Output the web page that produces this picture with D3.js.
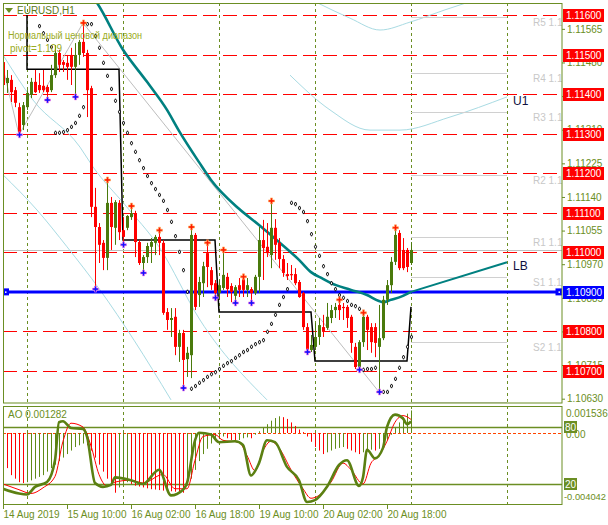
<!DOCTYPE html>
<html><head><meta charset="utf-8">
<script src="https://cdn.jsdelivr.net/npm/d3@7"></script>
<style>body{margin:0;background:#fff}svg{display:block;font-family:"Liberation Sans",Arial,sans-serif}</style>
</head><body>
<svg id="c" width="608" height="525"></svg>
<script>
// ---------- DATA ----------
const opens = [1.11481,1.11428,1.11436,1.11410,1.11367,1.11322,1.11367,1.11398,1.11431,1.11423,
1.11421,1.11418,1.11410,1.11448,1.11504,1.11481,1.11479,1.11499,1.11469,1.11499,
1.11532,1.11504,1.11415,1.11115,1.11064,1.11024,1.10986,1.11125,1.11062,1.11125,
1.11056,1.11062,1.11089,1.11099,1.11026,1.10973,1.10988,1.11014,1.11024,1.11039,
1.11024,1.10849,1.10829,1.10837,1.10761,1.10796,1.10730,1.10740,1.11044,1.10892,
1.10922,1.10998,1.10955,1.10922,1.10897,1.10910,1.10938,1.10915,1.10890,1.10917,
1.10933,1.10905,1.10907,1.10897,1.10938,1.11031,1.11014,1.10993,1.11062,1.11024,
1.10983,1.10945,1.10945,1.10945,1.10925,1.10897,1.10811,1.10753,1.10761,1.10786,
1.10811,1.10809,1.10834,1.10854,1.10867,1.10862,1.10862,1.10837,1.10761,1.10710,
1.10773,1.10837,1.10811,1.10811,1.10761,1.10783,1.10880,1.10917,1.10976,1.11049,
1.11006,1.11006,1.10973];
const highs = [1.11512,1.11461,1.11448,1.11418,1.11378,1.11380,1.11410,1.11441,1.11461,1.11453,
1.11461,1.11423,1.11474,1.11524,1.11512,1.11486,1.11499,1.11517,1.11529,1.11537,
1.11580,1.11512,1.11421,1.11163,1.11074,1.11031,1.11183,1.11140,1.11132,1.11132,
1.11089,1.11094,1.11117,1.11105,1.11031,1.10993,1.11024,1.11036,1.11044,1.11056,
1.11031,1.10859,1.10859,1.10859,1.10804,1.10804,1.10761,1.11064,1.11049,1.10938,
1.10976,1.11024,1.10963,1.10930,1.10930,1.11006,1.10948,1.10922,1.10917,1.10935,
1.10938,1.10935,1.10912,1.10943,1.11064,1.11082,1.11074,1.11130,1.11084,1.11036,
1.10993,1.10973,1.10968,1.10960,1.10930,1.10900,1.10821,1.10791,1.10821,1.10834,
1.10842,1.10872,1.10867,1.10872,1.10880,1.10872,1.10867,1.10842,1.10771,1.10778,
1.10847,1.10842,1.10821,1.10821,1.10867,1.10890,1.10930,1.10988,1.11062,1.11056,
1.11036,1.11011,1.11026];
const lows = [1.11403,1.11403,1.11380,1.11367,1.11297,1.11309,1.11360,1.11390,1.11403,1.11403,
1.11405,1.11385,1.11405,1.11441,1.11456,1.11456,1.11436,1.11423,1.11393,1.11474,
1.11494,1.11342,1.11089,1.10907,1.10973,1.10955,1.10955,1.11006,1.11019,1.11031,
1.11019,1.11056,1.11082,1.10988,1.10968,1.10948,1.10973,1.10973,1.10993,1.10993,
1.10842,1.10804,1.10786,1.10740,1.10723,1.10657,1.10685,1.10682,1.10854,1.10862,
1.10887,1.10912,1.10905,1.10885,1.10880,1.10905,1.10887,1.10874,1.10872,1.10887,
1.10887,1.10887,1.10872,1.10892,1.10897,1.10930,1.10988,1.10960,1.10981,1.10960,
1.10938,1.10930,1.10930,1.10917,1.10885,1.10804,1.10748,1.10748,1.10753,1.10766,
1.10786,1.10804,1.10821,1.10834,1.10829,1.10829,1.10809,1.10746,1.10705,1.10703,
1.10761,1.10753,1.10746,1.10735,1.10647,1.10778,1.10867,1.10897,1.10968,1.10955,
1.10955,1.10950,1.10968];
const closes = [1.11423,1.11441,1.11405,1.11378,1.11302,1.11372,1.11403,1.11431,1.11405,1.11410,
1.11410,1.11405,1.11448,1.11504,1.11474,1.11474,1.11469,1.11469,1.11499,1.11532,
1.11504,1.11410,1.11115,1.11064,1.11019,1.10986,1.11125,1.11064,1.11127,1.11051,
1.11039,1.11092,1.11099,1.11026,1.10973,1.10988,1.11016,1.11026,1.11039,1.11024,
1.10847,1.10829,1.10834,1.10761,1.10796,1.10728,1.10746,1.11044,1.10862,1.10925,
1.10965,1.10963,1.10917,1.10897,1.10917,1.10943,1.10907,1.10900,1.10912,1.10905,
1.10905,1.10917,1.10897,1.10938,1.11031,1.11011,1.10998,1.11062,1.11019,1.10983,
1.10948,1.10940,1.10943,1.10922,1.10887,1.10811,1.10753,1.10766,1.10786,1.10816,
1.10799,1.10837,1.10854,1.10862,1.10854,1.10859,1.10834,1.10771,1.10710,1.10773,
1.10837,1.10804,1.10773,1.10771,1.10783,1.10880,1.10917,1.10976,1.11044,1.10960,
1.10960,1.10963,1.11006];

// parabolic SAR [bar, price]
const sar = [[9,1.11572],[10,1.11554],[11,1.11537],[12,1.11519],
[13,1.11302],[14,1.11302],[15,1.11304],[16,1.11309],[17,1.11317],[18,1.11327],[19,1.11345],[20,1.11367],
[21,1.11577],[22,1.11577],[23,1.11547],[24,1.11517],[25,1.11479],[26,1.11446],[27,1.11413],[28,1.11383],[29,1.11355],
[30,1.11327],[31,1.11302],[32,1.11276],[33,1.11254],[34,1.11233],[35,1.11213],[36,1.11193],[37,1.11175],[38,1.11160],
[39,1.11145],[40,1.11130],[41,1.11107],[42,1.11077],[43,1.11041],[44,1.11001],[45,1.10955],[46,1.10900],
[47,1.10655],[48,1.10662],[49,1.10670],[50,1.10677],[51,1.10685],[52,1.10692],[53,1.10697],[54,1.10705],[55,1.10713],
[56,1.10720],[57,1.10725],[58,1.10733],[59,1.10740],[60,1.10748],[61,1.10753],[62,1.10761],[63,1.10768],[64,1.10773],
[65,1.10778],[66,1.10799],[67,1.10819],[68,1.10842],[69,1.10867],[70,1.10887],[71,1.10907],
[72,1.11125],[73,1.11122],[74,1.11112],[75,1.11102],[76,1.11079],[77,1.11046],[78,1.11014],[79,1.10991],[80,1.10965],
[81,1.10945],[82,1.10922],[83,1.10907],[84,1.10892],[85,1.10885],[86,1.10877],[87,1.10867],[88,1.10864],[89,1.10857],
[90,1.10703],[91,1.10705],[92,1.10705],[93,1.10708],
[95,1.10647],[96,1.10647],[97,1.10662],[98,1.10680],[99,1.10708],[100,1.10735],[101,1.10761],[102,1.10786]];

const fractalUp = [20,26,32,39,47,51,55,60,67,84,90,98];
const fractalDown = [4,11,18,23,30,35,45,53,58,62,76,89,94];

// teal moving average [bar, price]
const maLine = [[18,1.11688],[23,1.11638],[30,1.11512],[36,1.11431],[41,1.11360],[44,1.11307],[49,1.11228],
[52,1.11183],[59,1.11110],[64,1.11069],[69,1.11026],[74,1.10981],[77,1.10950],[80,1.10933],[82,1.10922],
[87,1.10905],[91,1.10892],[94,1.10877],[95,1.10874],[97,1.10880],[100,1.10890],[102,1.10900]];
const lbLine = [[102,1.10900],[126,1.10975]];

// daily level (black step line) [bar, price]
const dayLine = [[6,1.11600],[6,1.11463],[29,1.11463],[30,1.11031],[53,1.11031],[54,1.10849],
[77,1.10849],[78,1.10725],[101,1.10725],[102,1.10862]];

// zigzag (grey) [bar, price]
const zigzag = [[0,1.11466],[4,1.11297],[20,1.11580],[94,1.10647]];

// light blue channel curves [bar, price]
const blueA = [[0,1.11499],[7.5,1.11385],[19.25,1.11266],[22.5,1.11216],[30.5,1.11120],[39,1.11014],[49.25,1.10829],[66,1.10627]];
const blueB = [[0,1.11196],[8.5,1.11107],[16,1.11014],[24.25,1.10905],[32.75,1.10778],[42,1.10627]];
const blueC = [[78.75,1.11630],[86.75,1.11592],[94.25,1.11562],[101.75,1.11582],[110.5,1.11613],[118,1.11638]];
const blueU1 = [[71.75,1.11448],[81.75,1.11360],[91.75,1.11309],[99.25,1.11309],[111.75,1.11342],[126,1.11393]];

// pivot levels
const pivotNames = ["R5","R4","R3","R2","R1","S1","S2","S3"];
const pivotVals = [1.11595,1.11453,1.11355,1.11196,1.11039,1.10938,1.10773,1.10622];

// horizontal levels
const redLevels = [1.116,1.115,1.114,1.113,1.112,1.111,1.110,1.108,1.107];
const blueLevel = 1.109;
const priceTicks = [1.11565,1.11480,1.11395,1.11310,1.11225,1.11140,1.11055,1.10970,1.10885,1.10800,1.10715,1.10630];

// time axis
const timeIdx = [0,16,32,48,64,80,96];
const timeLabels = ["14 Aug 2019","15 Aug 10:00","16 Aug 02:00","16 Aug 18:00","19 Aug 10:00","20 Aug 02:00","20 Aug 18:00"];
const daySep = [6,30,54,78,102,126];

// Awesome Oscillator
const ao = [-0.0016,-0.0020,-0.0024,-0.0026,-0.0028,-0.00285,-0.0028,-0.0027,-0.0026,-0.0025,
-0.0024,-0.0022,-0.0020,-0.0018,-0.0016,-0.0014,-0.0012,-0.0010,-0.0008,-0.0007,
-0.0006,-0.0007,-0.0010,-0.0014,-0.0018,-0.0022,-0.0026,-0.0029,-0.0034,-0.0031,
-0.0029,-0.0028,-0.0029,-0.0030,-0.00305,-0.0031,-0.00315,-0.0032,-0.00322,-0.00325,
-0.00328,-0.0033,-0.00332,-0.00334,-0.00335,-0.0034,-0.0030,-0.0026,-0.0021,-0.0016,
-0.0012,-0.0009,-0.0006,-0.0004,-0.0003,-0.0002,-0.0003,-0.0004,-0.0005,-0.0004,
-0.0003,-0.00025,-0.0003,-0.0001,0.0001,0.0003,0.0005,0.0007,0.00085,0.00095,
0.0009,0.0008,0.0006,0.0004,0.0002,0.00005,-0.0002,-0.0005,-0.0008,-0.0010,
-0.0012,-0.0011,-0.0010,-0.0009,-0.00085,-0.0008,-0.0009,-0.0010,-0.0011,-0.0012,
-0.0011,-0.0010,-0.00095,-0.0010,-0.0009,-0.0007,-0.0004,-0.0001,0.0003,0.0006,
0.0009,0.0011,0.001282];
const aoMax = 0.001536, aoMin = -0.004042;

// stochastic main / signal [bar, value]
const stochMain = [[0,15],[4,10],[6,9],[8,17],[11,22],[13,45],[14,85],[15,86],[17,79],[20,78],[21,70],[23,21],
[25,17],[27,19],[28,27],[32,24],[35,20],[39,35],[42,8],[45,14],[46,21],[48,66],[49,74],[52,72],[54,64],
[58,65],[60,61],[62,29],[64,42],[66,66],[68,64],[71,38],[74,24],[76,1],[78,3],[81,17],[84,40],[86,45],
[89,18],[90,27],[91,56],[93,47],[95,58],[96,80],[98,93],[100,89],[101,83],[102,86]];
const stochSignal = [[0,20],[4,14],[7,10],[10,16],[13,28],[15,65],[17,84],[20,80],[22,60],[24,30],[26,18],
[28,22],[32,24],[35,21],[40,30],[43,15],[46,15],[48,45],[50,70],[53,72],[55,66],[59,64],[61,50],[63,34],
[65,55],[67,65],[69,58],[72,35],[75,15],[77,5],[79,8],[82,22],[85,42],[87,35],[90,20],[92,42],[94,50],
[96,65],[98,85],[100,92],[102,88]];
const stochLevels = [80,20];

// ---------- DRAW ----------
const olive = "#6b8e23", bull = "#4a7a0c", bear = "#ff0000", FS = 10;
const svg = d3.select("#c");
const x = d3.scaleLinear().domain([0,139.75]).range([3,562]);
const y = d3.scaleLinear().domain([1.107,1.116]).range([371,15]);
const ya = d3.scaleLinear().domain([aoMin,aoMax]).range([504,406]);
const ys = d3.scaleLinear().domain([0,100]).range([503,408]);

const defs = svg.append("defs");
defs.append("clipPath").attr("id","cm").append("rect").attr("x",3).attr("y",3).attr("width",559).attr("height",400);
defs.append("clipPath").attr("id","cs").append("rect").attr("x",3).attr("y",406).attr("width",559).attr("height",99);

const main = svg.append("g").attr("clip-path","url(#cm)");
const lineP = d3.line().x(d=>x(d[0])).y(d=>y(d[1]));
const curveP = d3.line().x(d=>x(d[0])).y(d=>y(d[1])).curve(d3.curveMonotoneX);

// separators
main.selectAll(".sep").data(daySep).join("line")
  .attr("x1",d=>x(d)+0.5).attr("x2",d=>x(d)+0.5).attr("y1",3).attr("y2",403)
  .attr("stroke",olive).attr("stroke-dasharray","3,3");

// red dashed levels
main.selectAll(".lvl").data(redLevels).join("line")
  .attr("x1",3).attr("x2",562).attr("y1",d=>Math.round(y(d))+0.5).attr("y2",d=>Math.round(y(d))+0.5)
  .attr("stroke","#ff0000").attr("stroke-dasharray","14,6");

// bid line (last close)
main.append("line").attr("x1",3).attr("x2",562)
  .attr("y1",Math.round(y(closes[closes.length-1]))+0.5).attr("y2",Math.round(y(closes[closes.length-1]))+0.5)
  .attr("stroke","#c0c0c0");

// light blue curves
[blueA,blueB,blueC,blueU1].forEach(c=>{
  main.append("path").attr("d",curveP(c)).attr("fill","none").attr("stroke","#a9dbe3").attr("stroke-width",1);
});

// zigzag
main.append("path").attr("d",lineP(zigzag)).attr("fill","none").attr("stroke","#bdbdbd").attr("stroke-width",1);

// pivot segments
main.selectAll(".piv").data(pivotVals).join("line")
  .attr("x1",x(102)).attr("x2",x(126)).attr("y1",d=>Math.round(y(d))+0.5).attr("y2",d=>Math.round(y(d))+0.5)
  .attr("stroke","#d0d0d0");
main.selectAll(".pivt").data(pivotVals).join("text")
  .attr("x",x(126)+26).attr("y",d=>y(d)+9).attr("font-size",FS).attr("fill","#c8c8c8")
  .text((d,i)=>pivotNames[i]+" "+d.toFixed(5));

// daily black step line
main.append("path").attr("d",lineP(dayLine)).attr("fill","none").attr("stroke","#000").attr("stroke-width",1.5);

// blue level line
main.append("line").attr("x1",3).attr("x2",562).attr("y1",y(blueLevel)).attr("y2",y(blueLevel))
  .attr("stroke","#0000ff").attr("stroke-width",3);
[5.5,559].forEach(px=>{
  main.append("rect").attr("x",px-3.5).attr("y",y(blueLevel)-3.5).attr("width",7).attr("height",7).attr("fill","#0000ff");
  main.append("rect").attr("x",px-0.5).attr("y",y(blueLevel)-0.5).attr("width",1.5).attr("height",1.5).attr("fill","#fff");
});

// moving average & LB
main.append("path").attr("d",curveP(maLine)).attr("fill","none").attr("stroke","#008080").attr("stroke-width",2.6);
main.append("path").attr("d",lineP(lbLine)).attr("fill","none").attr("stroke","#008080").attr("stroke-width",2);

// candles
const cg = main.append("g");
d3.range(opens.length).forEach(i=>{
  const up = closes[i] >= opens[i];
  const col = up ? bull : bear;
  const cx = Math.round(x(i));
  cg.append("line").attr("x1",cx+0.5).attr("x2",cx+0.5).attr("y1",y(highs[i])).attr("y2",y(lows[i])).attr("stroke",col);
  const t = y(Math.max(opens[i],closes[i])), b = y(Math.min(opens[i],closes[i]));
  cg.append("rect").attr("x",cx-1).attr("width",3).attr("y",t).attr("height",Math.max(1.2,b-t)).attr("fill",col);
});

// SAR
main.selectAll(".sar").data(sar).join("path")
  .attr("transform",d=>`translate(${x(d[0])+0.5},${y(d[1])})`)
  .attr("d",d3.symbol(d3.symbolDiamond,5)).attr("fill","#fff").attr("stroke","#000").attr("stroke-width",0.9);

// fractals
main.selectAll(".fu").data(fractalUp).join("path")
  .attr("transform",i=>`translate(${x(i)+0.5},${y(highs[i])})`)
  .attr("d",d3.symbol(d3.symbolCross,20)).attr("fill","#ff1a00").attr("stroke","#ffb060").attr("stroke-width",0.6);
main.selectAll(".fd").data(fractalDown).join("path")
  .attr("transform",i=>`translate(${x(i)+0.5},${y(lows[i])})`)
  .attr("d",d3.symbol(d3.symbolCross,20)).attr("fill","#1010ff").attr("stroke","#ff80e0").attr("stroke-width",0.6);

// object labels
main.append("text").attr("x",x(126)+6).attr("y",y(blueU1[blueU1.length-1][1])+8).attr("font-size",12).attr("fill","#101040").text("U1");
main.append("text").attr("x",x(126)+6).attr("y",y(lbLine[1][1])+8).attr("font-size",12).attr("fill","#101040").text("LB");

// legend
svg.append("path").attr("d","M5,8 L13,8 L9,13 Z").attr("fill",olive);
svg.append("text").attr("x",17).attr("y",14).attr("font-size",FS).attr("fill","#5a7a18").text("EURUSD,H1");
svg.append("text").attr("x",8).attr("y",39).attr("font-size",FS).attr("fill","#9aab22")
  .attr("textLength",134).attr("lengthAdjust","spacingAndGlyphs").text("Нормальный ценовой диапазон");
svg.append("text").attr("x",10).attr("y",52).attr("font-size",FS).attr("fill","#9aab22").text("pivot=1.109");

// main frame
svg.append("rect").attr("x",3.5).attr("y",3.5).attr("width",558.5).attr("height",399.5).attr("fill","none").attr("stroke",olive);

// right price axis
const axG = svg.append("g").attr("transform","translate(562,0)");
axG.call(d3.axisRight(y).tickValues(priceTicks).tickFormat(d3.format(".5f")).tickSize(3).tickSizeOuter(0));
axG.select(".domain").remove();
axG.selectAll("line").attr("stroke",olive);
axG.selectAll("text").attr("fill",olive).attr("font-size",FS).attr("font-family","Liberation Sans, Arial, sans-serif").attr("x",5);

// level label boxes
const boxes = redLevels.map(v=>({v,c:"#ff0000"})).concat([{v:blueLevel,c:"#0000ff"}]);
const bg = svg.append("g");
boxes.forEach(b=>{
  const yy = Math.round(y(b.v));
  bg.append("rect").attr("x",563).attr("y",yy-6).attr("width",41).attr("height",13).attr("fill",b.c);
  bg.append("text").attr("x",566).attr("y",yy+4).attr("font-size",FS).attr("fill","#fff").text(b.v.toFixed(5));
});

// ---------- SUB WINDOW ----------
const sub = svg.append("g").attr("clip-path","url(#cs)");
sub.selectAll(".sep2").data(daySep).join("line")
  .attr("x1",d=>x(d)+0.5).attr("x2",d=>x(d)+0.5).attr("y1",406).attr("y2",505)
  .attr("stroke",olive).attr("stroke-dasharray","3,3");
sub.selectAll(".sl").data(stochLevels).join("line")
  .attr("x1",3).attr("x2",562).attr("y1",d=>Math.round(ys(d))+0.5).attr("y2",d=>Math.round(ys(d))+0.5)
  .attr("stroke",olive).attr("stroke-width",1.3);
sub.append("line").attr("x1",3).attr("x2",562).attr("y1",Math.round(ya(0))+0.5).attr("y2",Math.round(ya(0))+0.5)
  .attr("stroke","#ff4500").attr("stroke-dasharray","3,2");
sub.selectAll(".aob").data(ao).join("line")
  .attr("x1",(d,i)=>Math.round(x(i))+0.5).attr("x2",(d,i)=>Math.round(x(i))+0.5)
  .attr("y1",ya(0)).attr("y2",d=>ya(d))
  .attr("stroke",(d,i)=> i===0 || d>ao[i-1] ? "#5f8a16" : "#ff0000");
const sl = d3.line().x(d=>x(d[0])).y(d=>ys(d[1])).curve(d3.curveMonotoneX);
sub.append("path").attr("d",sl(stochSignal)).attr("fill","none").attr("stroke","#ff0000").attr("stroke-width",1);
sub.append("path").attr("d",sl(stochMain)).attr("fill","none").attr("stroke","#5b8012").attr("stroke-width",2.6);
svg.append("text").attr("x",8).attr("y",418).attr("font-size",FS).attr("fill",olive).text("AO 0.001282");
svg.append("rect").attr("x",3.5).attr("y",406.5).attr("width",558.5).attr("height",98).attr("fill","none").attr("stroke",olive);

// sub axis labels
const sa = svg.append("g");
sa.append("text").attr("x",566).attr("y",417).attr("font-size",FS).attr("fill",olive).text(aoMax.toFixed(6));
sa.append("text").attr("x",566).attr("y",ya(0)+5).attr("font-size",FS).attr("fill",olive).text("0.00");
sa.append("text").attr("x",564).attr("y",500).attr("font-size",9.5).attr("fill",olive)
  .attr("textLength",42).attr("lengthAdjust","spacingAndGlyphs").text(aoMin.toFixed(6));
stochLevels.forEach(v=>{
  const yy = Math.round(ys(v));
  sa.append("rect").attr("x",564).attr("y",yy-6).attr("width",13).attr("height",12).attr("fill",olive);
  sa.append("text").attr("x",565).attr("y",yy+4).attr("font-size",FS).attr("fill","#fff").text(v);
});

// time axis
const ta = svg.append("g");
timeIdx.forEach((ti,k)=>{
  const px = Math.round(x(ti))+0.5;
  ta.append("line").attr("x1",px).attr("x2",px).attr("y1",505).attr("y2",509).attr("stroke",olive);
  ta.append("text").attr("x",px).attr("y",518).attr("font-size",FS).attr("fill",olive).text(timeLabels[k]);
});
</script>
</body></html>
